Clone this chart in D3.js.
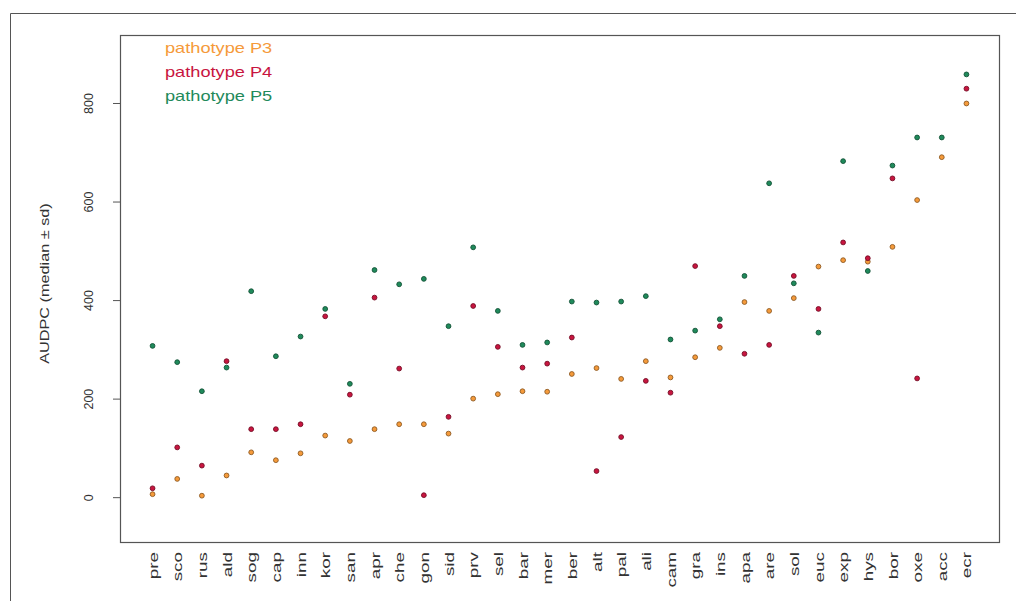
<!DOCTYPE html>
<html>
<head>
<meta charset="utf-8">
<script src="https://cdn.jsdelivr.net/npm/d3@7"></script>
<style>
  body { margin: 0; background: #fff; }
  text { font-family: "Liberation Sans", Arial, sans-serif; }
</style>
</head>
<body>
<div id="chart"></div>
<script>
// categories (x axis)
var cultivars = ["pre", "sco", "rus", "ald", "sog", "cap", "inn", "kor", "san", "apr", "che", "gon", "sid", "prv", "sel", "bar", "mer",
                 "ber", "alt", "pal", "ali", "cam", "gra", "ins", "apa", "are", "sol", "euc", "exp", "hys", "bor", "oxe", "acc", "ecr"];

// AUDPC medians per pathotype
var p3 = [6, 37, 3, 44, 91, 75, 89, 125, 114, 138, 148, 148, 129, 200, 209, 215, 214,
          250, 262, 240, 276, 243, 284, 303, 396, 378, 404, 468, 481, 478, 508, 603, 690, 799];
var p4 = [18, 101, 64, 276, 138, 138, 148, 367, 208, 405, 261, 4, 163, 388, 305, 263, 271,
          324, 53, 122, 236, 212, 469, 347, 291, 309, 449, 382, 517, 485, 647, 241, null, 829];
var p5 = [307, 274, 215, 263, 418, 286, 326, 382, 230, 461, 432, 443, 347, 507, 378, 309, 314,
          397, 395, 397, 408, 320, 338, 361, 449, 637, 434, 334, 682, 459, 673, 730, 730, 858];

var yTicks = [0, 200, 400, 600, 800];

var seriesNames = ["pathotype P3", "pathotype P4", "pathotype P5"];
var seriesColors = ["#f59a3a", "#c8153f", "#1f8a5b"];
var series = [p3, p4, p5];

var W = 1016, H = 601;
var margin = { top: 35, right: 17, bottom: 59, left: 120 },
    width = W - margin.left - margin.right,
    height = H - margin.top - margin.bottom;

var svg = d3.select("#chart").append("svg")
    .attr("width", W)
    .attr("height", H);

// outer frame
svg.append("path")
    .attr("d", "M10.5," + H + "V13.5H" + W)
    .attr("fill", "none")
    .attr("stroke", "#555")
    .attr("stroke-width", 1);

var g = svg.append("g")
    .attr("transform", "translate(" + margin.left + "," + margin.top + ")");

// scales (R style 4% padding)
var n = cultivars.length;
var x = d3.scaleLinear()
    .domain([1 - 0.04 * (n - 1), n + 0.04 * (n - 1)])
    .range([0, width]);

var y = d3.scaleLinear()
    .domain([-91, 938])
    .range([height, 0]);

// plot box
g.append("rect")
    .attr("x", 0.5).attr("y", 0.5)
    .attr("width", width).attr("height", height)
    .attr("fill", "none")
    .attr("stroke", "#555")
    .attr("stroke-width", 1.2);

// y axis
var yAxis = g.append("g")
    .call(d3.axisLeft(y).tickValues(yTicks).tickSize(7));
yAxis.select(".domain").remove();
yAxis.selectAll("line").attr("stroke", "#555");
yAxis.selectAll("text")
    .attr("font-size", 12.5)
    .attr("fill", "#333")
    .attr("x", 0)
    .attr("dy", "0.35em")
    .attr("transform", "translate(-31,0) rotate(-90)")
    .style("text-anchor", "middle");

// y label
g.append("text")
    .attr("transform", "translate(-75," + (height / 2 - 5) + ") rotate(-90) scale(1.3,1)")
    .attr("dy", "0.35em")
    .attr("text-anchor", "middle")
    .attr("font-size", 12.5)
    .attr("fill", "#333")
    .text("AUDPC (median \u00b1 sd)");

// x labels (vertical)
var xAxis = g.append("g")
    .attr("transform", "translate(0," + height + ")")
    .call(d3.axisBottom(x).tickValues(d3.range(1, n + 1)).tickSize(0)
        .tickFormat(function (d) { return cultivars[d - 1]; }));
xAxis.select(".domain").remove();
xAxis.selectAll("text")
    .attr("font-size", 13)
    .attr("fill", "#333")
    .attr("x", 0)
    .attr("y", 0)
    .attr("dy", "0.35em")
    .attr("transform", "translate(0,10) rotate(-90) scale(1.45,1)")
    .style("text-anchor", "end");

// points
series.forEach(function (vals, s) {
    g.append("g").selectAll("circle")
        .data(vals.map(function (v, i) { return { i: i + 1, v: v }; })
            .filter(function (d) { return d.v != null; }))
        .enter().append("circle")
        .attr("cx", function (d) { return x(d.i); })
        .attr("cy", function (d) { return y(d.v); })
        .attr("r", 2.4)
        .attr("fill", seriesColors[s])
        .attr("stroke", d3.color(seriesColors[s]).darker(1.5))
        .attr("stroke-width", 0.9);
});

// legend
g.selectAll(".legendItem").data(seriesNames)
    .enter().append("text")
    .attr("class", "legendItem")
    .attr("transform", function (d, i) { return "translate(45," + (13 + i * 24) + ") scale(1.3,1)"; })
    .attr("dy", "0.35em")
    .attr("font-size", 14)
    .attr("fill", function (d, i) { return seriesColors[i]; })
    .text(function (d) { return d; });
</script>
</body>
</html>
